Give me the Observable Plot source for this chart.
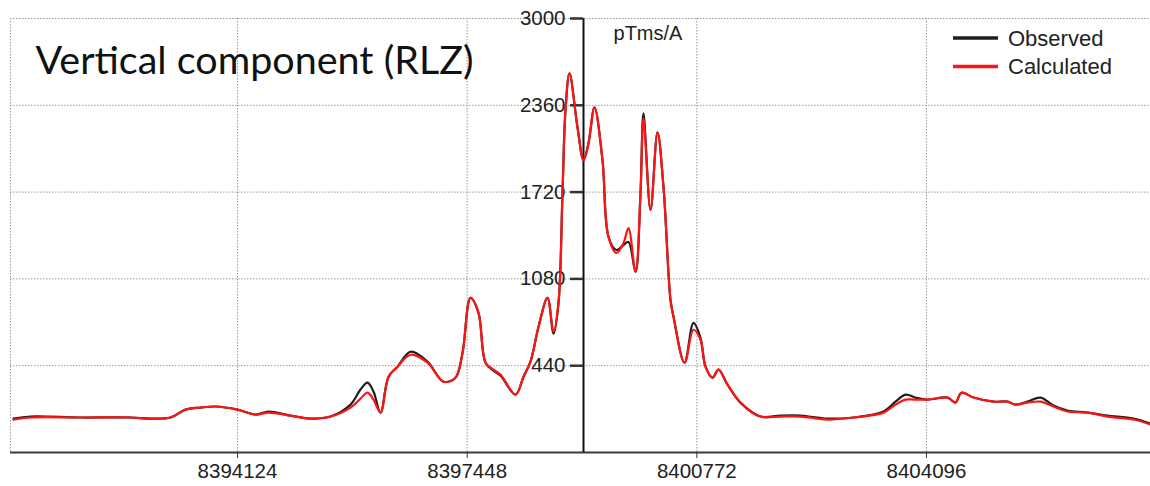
<!DOCTYPE html>
<html><head><meta charset="utf-8">
<script src="https://cdn.jsdelivr.net/npm/d3@7"></script>
<script src="https://cdn.jsdelivr.net/npm/@observablehq/plot@0.6"></script>
<style>
html,body{margin:0;padding:0;background:#fff;}
#chart{width:1150px;height:486px;}
</style></head><body><div id="chart"></div>
<script>
const positions = [8390882,8391128,8391852,8392575,8392865,8393154,8393371,8393588,8393806,8394124,
8394385,8394573,8394891,8395181,8395470,8395760,8395904,8396006,8396092,8396194,
8396310,8396440,8396628,8396874,8397106,8397279,8397381,8397496,8397612,8397714,
8397829,8397931,8398148,8398264,8398365,8398481,8398611,8398698,8398770,8398828,
8398871,8398929,8399045,8399132,8399204,8399291,8399407,8399494,8399610,8399711,
8399783,8399885,8399957,8400000,8400102,8400203,8400290,8400391,8400435,8400594,
8400724,8400825,8400898,8400999,8401086,8401216,8401404,8401694,8401983,8402273,
8402664,8403040,8403474,8403648,8403793,8403937,8404111,8404401,8404516,8404603,
8404777,8405066,8405269,8405385,8405558,8405747,8405935,8406137,8406427,8406716,
8407093,8407339];
const calculated = [43,58,58,58,50,58,116,131,139,116,
80,94,72,50,65,131,197,241,190,94,
359,433,521,462,322,352,536,940,830,462,
411,374,227,359,470,727,940,690,904,1713,
2323,2595,2198,1955,2080,2345,1955,1389,1271,1345,
1455,1132,1713,2264,1588,2161,1757,926,801,462,
705,631,433,352,411,300,168,65,65,65,
43,58,94,153,190,190,190,205,168,241,
205,175,175,153,168,175,139,102,94,65,
43,6];
const observed = [50,65,58,58,50,58,116,131,139,116,
80,102,72,50,65,153,264,315,249,94,
359,433,543,470,322,352,536,940,830,462,
403,367,227,359,470,727,940,676,904,1713,
2323,2595,2198,1955,2080,2345,1955,1389,1293,1330,
1352,1132,1713,2301,1588,2161,1757,926,801,462,
756,646,433,352,411,300,168,65,72,72,
50,58,102,175,227,205,190,205,168,241,
205,175,175,153,175,205,146,109,94,72,
50,13];
const xTicks = [8394124, 8397448, 8400772, 8404096];
const yTicks = [440, 1080, 1720, 2360, 3000];
const xDomain = [8390838, 8407339];
const yDomain = [-200, 3000];
const yAxisAt = 8399132;
const title = "Vertical component (RLZ)";
const unitLabel = "pTms/A";
const seriesNames = ["Observed", "Calculated"];
const seriesColors = ["#1e1e1e", "#ff1414"];

const obsRows = positions.map((x, i) => ({x, y: observed[i]}));
const calRows = positions.map((x, i) => ({x, y: calculated[i]}));

const gridStyle = {stroke: "#9a9a9a", strokeOpacity: 1, strokeWidth: 1, strokeDasharray: "1.5,1.5"};

function legend(index, scales, values, dims) {
  const g = d3.create("svg:g").attr("text-anchor", "start");
  seriesNames.forEach((name, i) => {
    const y = 38 + i * 28.5;
    g.append("line").attr("x1", dims.width - 197).attr("x2", dims.width - 152)
      .attr("y1", y).attr("y2", y).attr("stroke", seriesColors[i]).attr("stroke-width", 3.5);
    g.append("text").attr("x", dims.width - 142).attr("y", y).attr("dy", "0.35em")
      .attr("text-anchor", "start").attr("font-size", 22).attr("fill", "#222").text(name);
  });
  return g.node();
}

const chart = Plot.plot({
  width: 1150, height: 486,
  marginLeft: 10, marginRight: 0, marginTop: 18, marginBottom: 34,
  style: {fontFamily: "'Liberation Sans', Arial, sans-serif", fontSize: "20.5px", color: "#222", background: "#fff", overflow: "visible"},
  x: {domain: xDomain},
  y: {domain: yDomain, axis: null},
  marks: [
    Plot.gridY(yTicks, gridStyle),
    Plot.gridX(xTicks, gridStyle),
    Plot.ruleX([xDomain[0]], gridStyle),
    Plot.ruleY([yDomain[0]], {stroke: "#3a3a3a", strokeWidth: 2}),
    Plot.axisX({ticks: xTicks, tickFormat: d => String(d), tickSize: 6, tickPadding: 5, fontSize: 20.5, label: null, stroke: "#333"}),
    Plot.ruleX([yAxisAt], {stroke: "#111", strokeWidth: 2}),
    Plot.ruleY(yTicks, {x1: () => yAxisAt, x2: () => yAxisAt, insetLeft: -13, stroke: "#333", strokeWidth: 2.5}),
    Plot.text(yTicks, {x: () => yAxisAt, y: d => d, text: d => String(d), textAnchor: "end", dx: -18, fontSize: 20.5, fill: "#222"}),
    Plot.text([unitLabel], {x: () => yAxisAt, y: () => yDomain[1], textAnchor: "start", dx: 30, dy: 15, fontSize: 20, fill: "#222"}),
    Plot.text([title], {frameAnchor: "top-left", textAnchor: "start", lineAnchor: "bottom", dx: 25, dy: 55, fontSize: 39.5, fontFamily: "Lato", fill: "#111"}),
    Plot.line(obsRows, {x: "x", y: "y", stroke: seriesColors[0], strokeWidth: 2.2, curve: "catmull-rom"}),
    Plot.line(calRows, {x: "x", y: "y", stroke: seriesColors[1], strokeWidth: 2.2, curve: "catmull-rom"}),
    legend
  ]
});
document.getElementById("chart").appendChild(chart);
</script>
</body></html>
